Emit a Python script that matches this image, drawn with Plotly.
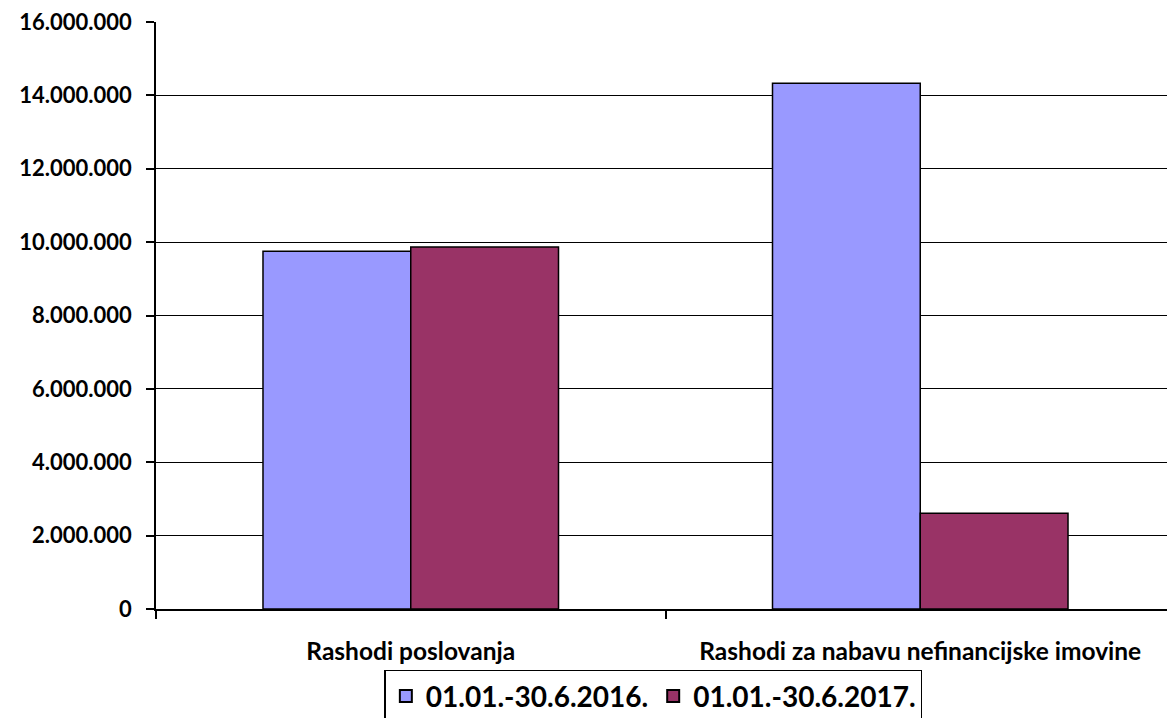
import plotly.graph_objects as go

categories = ["Rashodi poslovanja", "Rashodi za nabavu nefinancijske imovine"]
series_2016 = [9750000, 14330000]
series_2017 = [9870000, 2610000]
series_names = ["01.01.-30.6.2016.", "01.01.-30.6.2017."]
y_ticks = [0, 2000000, 4000000, 6000000, 8000000, 10000000, 12000000, 14000000, 16000000]

fig = go.Figure()
fig.add_trace(go.Bar(x=categories, y=series_2016, name=series_names[0],
                     marker=dict(color="#9999FF", line=dict(color="black", width=1.5))))
fig.add_trace(go.Bar(x=categories, y=series_2017, name=series_names[1],
                     marker=dict(color="#993366", line=dict(color="black", width=1.5))))

fig.update_layout(
    width=1167, height=710,
    margin=dict(l=148, r=0, t=14, b=109, autoexpand=False),
    plot_bgcolor="white", paper_bgcolor="white",
    barmode="group", bargap=0.42, bargroupgap=0,
    separators=",.",
    font=dict(family="Lato", color="black"),
    showlegend=True,
    legend=dict(orientation="h", xref="container", yref="container",
                x=0.553, xanchor="center", y=0.068, yanchor="top",
                bordercolor="black", borderwidth=1.5,
                font=dict(size=28, family="Lato", weight="bold"),
                itemsizing="constant", traceorder="normal",
                tracegroupgap=0, itemwidth=30),
)
fig.update_yaxes(range=[0, 16000000], tickvals=y_ticks, tickformat=",d",
                 showgrid=True, gridcolor="black", gridwidth=1.2,
                 showline=True, linecolor="black", linewidth=1.5,
                 ticks="outside", ticklen=8, tickcolor="black", tickwidth=1.5,
                 ticklabelstandoff=10, ticklabeloverflow="allow",
                 tickfont=dict(size=22, family="Lato", weight="bold"),
                 zeroline=False, automargin=False)
fig.update_xaxes(showline=True, linecolor="black", linewidth=1.5,
                 ticks="outside", ticklen=8, tickcolor="black", tickwidth=1.5,
                 tickson="boundaries", ticklabelstandoff=20,
                 tickfont=dict(size=24.5, family="Lato", weight="bold"),
                 showgrid=False, automargin=False)

fig.write_html("out.html")
